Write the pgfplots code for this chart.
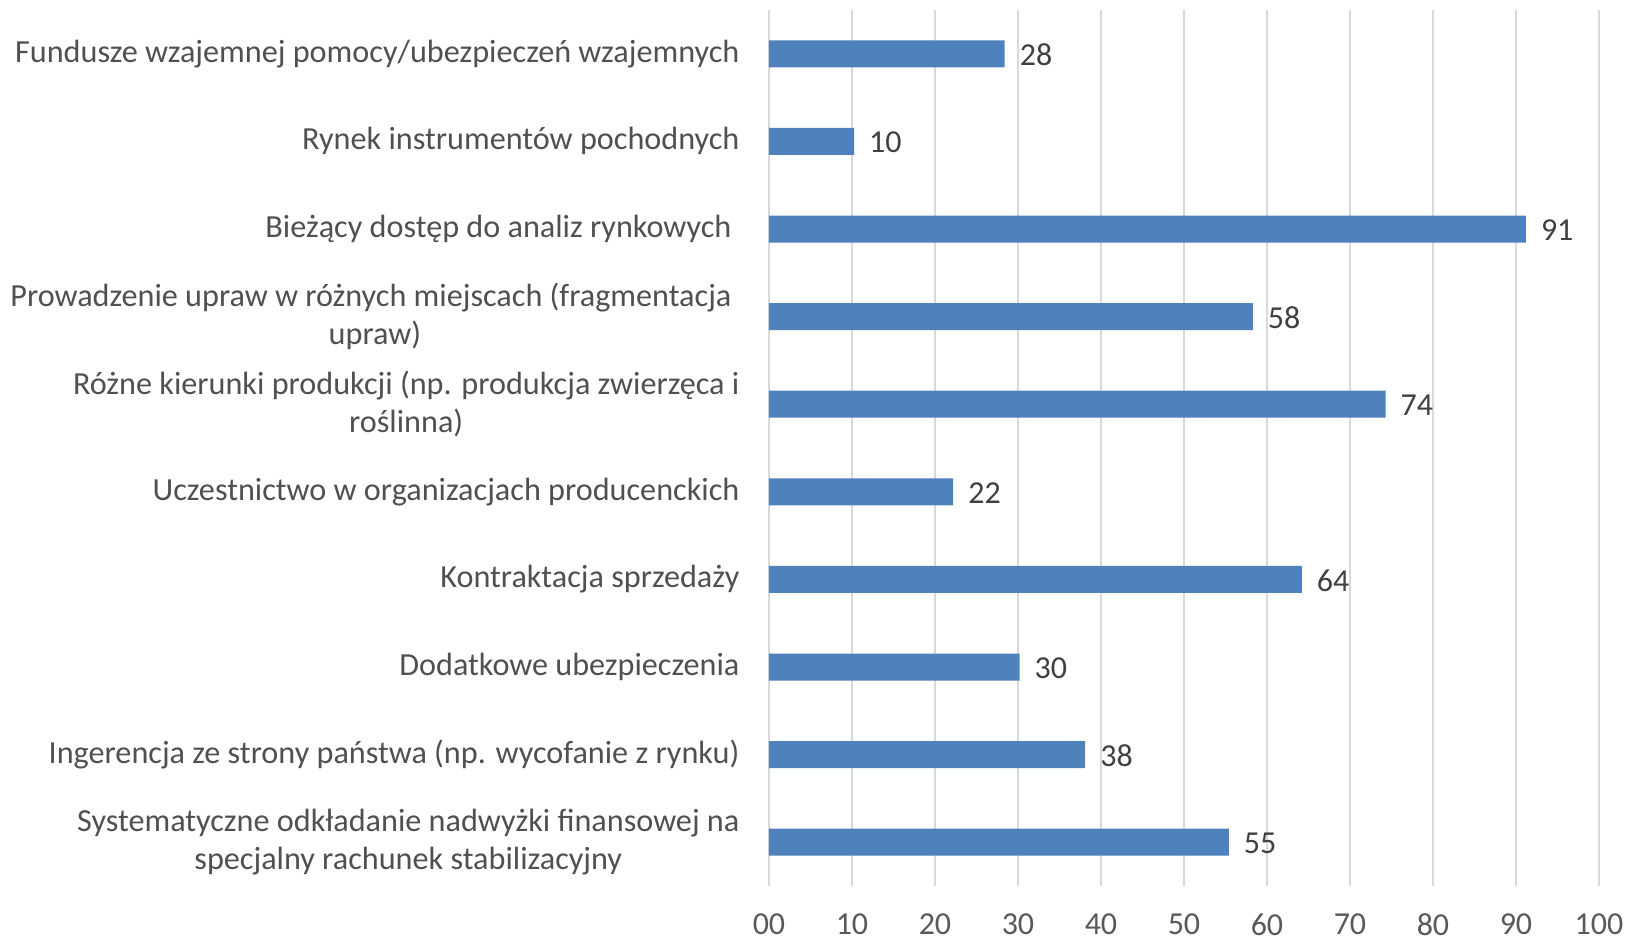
\documentclass[border=0pt]{standalone}
\usepackage{fontspec}
\setmainfont{Carlito}
\usepackage{pgfplots}
\pgfplotsset{compat=1.18}
\definecolor{barBlue}{HTML}{4F81BD}
\definecolor{gridGrey}{HTML}{D9D9D9}
\definecolor{tickGrey}{HTML}{595959}
\definecolor{labelGrey}{HTML}{505050}
\definecolor{valueGrey}{HTML}{404040}

\begin{document}
\begin{tikzpicture}
\begin{axis}[
  scale only axis,
  width=415pt, height=438pt,
  xbar,
  bar width=13.5pt,
  xmin=0, xmax=100,
  ymin=-0.5, ymax=9.5,
  y dir=reverse,
  xtick={0,10,20,30,40,50,60,70,80,90,100},
  xticklabels={00,10,20,30,40,50,60,70,80,90,100},
  ytick={0,1,2,3,4,5,6,7,8,9},
  yticklabels={
    {Fundusze wzajemnej pomocy/ubezpieczeń wzajemnych},
    {Rynek instrumentów pochodnych},
    {Bieżący dostęp do analiz rynkowych\hspace*{4pt}},
    {Prowadzenie upraw w różnych miejscach (fragmentacja\hspace*{4pt}\\upraw)},
    {Różne kierunki produkcji (np. produkcja zwierzęca i\\roślinna)},
    {Uczestnictwo w organizacjach producenckich},
    {Kontraktacja sprzedaży},
    {Dodatkowe ubezpieczenia},
    {Ingerencja ze strony państwa (np. wycofanie z rynku)},
    {Systematyczne odkładanie nadwyżki finansowej na\\specjalny rachunek stabilizacyjny}
  },
  /pgf/number format/assume math mode=true,
  axis line style={draw=none},
  tick style={draw=none},
  xmajorgrids,
  grid style={gridGrey, line width=0.6pt},
  xticklabel style={font=\fontsize{16}{19}\selectfont, text=tickGrey, yshift=-10.5pt},
  yticklabel style={font=\fontsize{16.1}{19.2}\selectfont, text=labelGrey, align=center, xshift=-7pt},
  nodes near coords,
  nodes near coords style={font=\fontsize{16}{19}\selectfont, text=valueGrey, xshift=4pt, yshift=-0.5pt,
    /pgf/number format/.cd, fixed, precision=0},
]
\addplot[fill=barBlue, draw=none] coordinates {
  (28.4,0) (10.25,1) (91.2,2) (58.3,3) (74.3,4) (22.2,5) (64.2,6) (30.2,7) (38.1,8) (55.4,9)
};
\end{axis}
\pgfresetboundingbox
\path[use as bounding box] ([xshift=-384.5pt,yshift=-27.5pt]current axis.south west) rectangle ([xshift=15pt,yshift=5pt]current axis.north east);
\end{tikzpicture}
\end{document}
